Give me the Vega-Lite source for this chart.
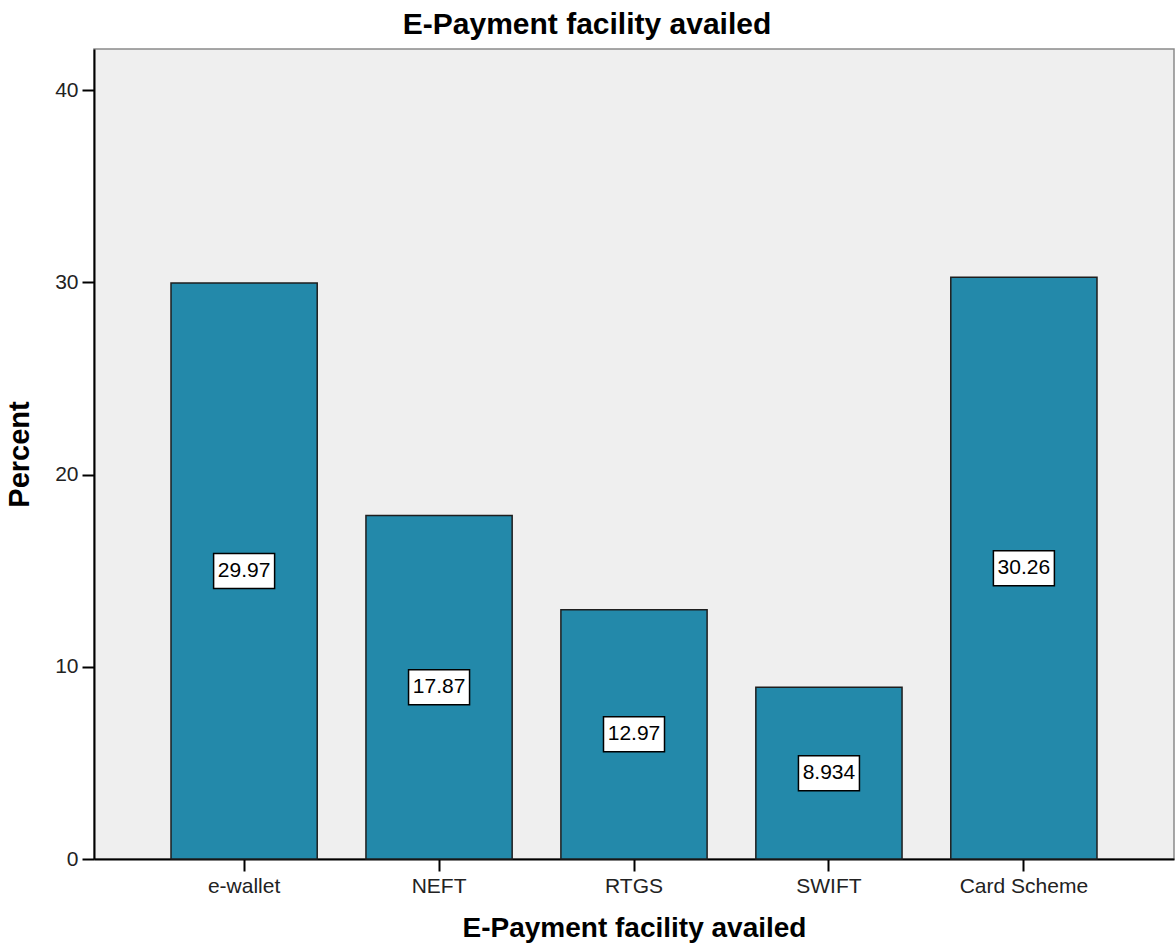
{
  "$schema": "https://vega.github.io/schema/vega-lite/v6.json",
  "width": 1080,
  "height": 810,
  "autosize": {"type": "none"},
  "padding": {"left": 94, "top": 49, "right": 1, "bottom": 90},
  "background": "white",
  "title": {
    "text": "E-Payment facility availed",
    "font": "Liberation Sans",
    "fontSize": 30,
    "fontWeight": "bold",
    "color": "black",
    "anchor": "middle",
    "dx": -47,
    "baseline": "bottom",
    "offset": -21
  },
  "config": {
    "view": {"fill": "#EFEFEF", "stroke": "#8a8a8a", "strokeWidth": 1.5},
    "axis": {
      "domainColor": "black",
      "domainWidth": 2,
      "tickColor": "black",
      "tickWidth": 2,
      "tickSize": 12,
      "labelFont": "Liberation Sans",
      "labelFontSize": 21,
      "labelColor": "#222",
      "titleFont": "Liberation Sans",
      "titleFontWeight": "bold",
      "titleColor": "black",
      "grid": false
    }
  },
  "data": {
    "values": [
      {"facility": "e-wallet", "value": 29.97},
      {"facility": "NEFT", "value": 17.87},
      {"facility": "RTGS", "value": 12.97},
      {"facility": "SWIFT", "value": 8.934},
      {"facility": "Card Scheme", "value": 30.26}
    ]
  },
  "layer": [
    {
      "mark": {"type": "bar", "fill": "#2389AA", "stroke": "#1e1e1e", "strokeWidth": 1.5},
      "encoding": {
        "x": {
          "field": "facility", "type": "nominal", "sort": null,
          "scale": {"paddingInner": 0.25, "paddingOuter": 0.395},
          "axis": {"labelAngle": 0, "labelPadding": 4, "title": "E-Payment facility availed", "titleFontSize": 28, "titlePadding": 18}
        },
        "y": {
          "field": "value", "type": "quantitative",
          "scale": {"domain": [0, 42.14], "nice": false},
          "axis": {"values": [0, 10, 20, 30, 40], "labelPadding": 4, "title": "Percent", "titleFontSize": 29, "titlePadding": 20}
        }
      }
    },
    {
      "mark": {"type": "point", "shape": "M-1,-0.574H1V0.574H-1Z", "size": 3721, "filled": true, "fill": "white", "stroke": "black", "strokeWidth": 1.5, "opacity": 1},
      "encoding": {
        "x": {"field": "facility", "type": "nominal", "sort": null},
        "y": {"field": "value", "type": "quantitative", "scale": {"domain": [0, 84.28], "nice": false}, "axis": null}
      }
    },
    {
      "mark": {"type": "text", "font": "Liberation Sans", "fontSize": 21, "fill": "black", "baseline": "middle", "align": "center"},
      "encoding": {
        "x": {"field": "facility", "type": "nominal", "sort": null},
        "y": {"field": "value", "type": "quantitative", "scale": {"domain": [0, 84.28], "nice": false}, "axis": null},
        "text": {"field": "value", "type": "quantitative", "format": ".4"}
      }
    }
  ],
  "resolve": {"scale": {"y": "independent"}}
}
